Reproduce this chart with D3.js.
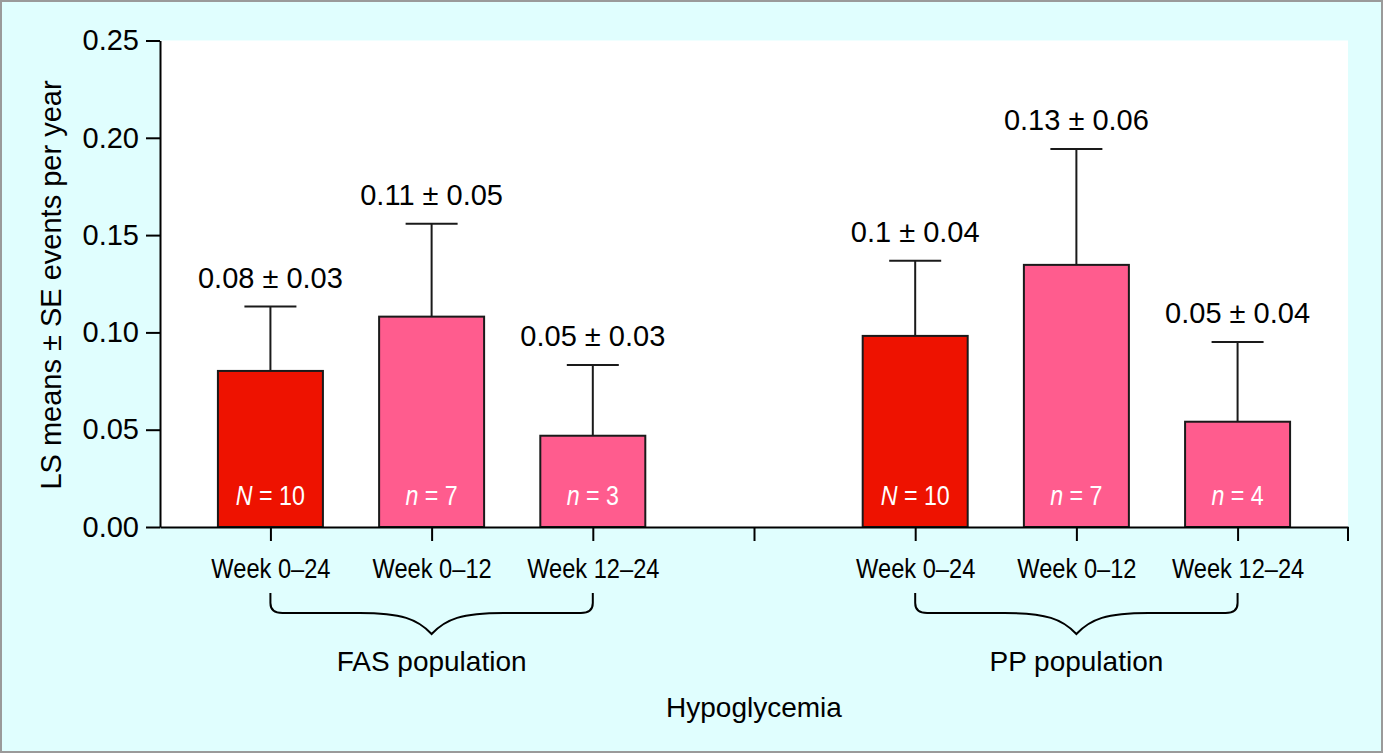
<!DOCTYPE html>
<html>
<head>
<meta charset="utf-8">
<script src="https://cdn.jsdelivr.net/npm/d3@7"></script>
<style>
  body { margin: 0; background: #fff; }
  svg text { font-family: "Liberation Sans", Arial, sans-serif; fill: #000; }
</style>
</head>
<body>
<svg id="chart" width="1383" height="753"></svg>
<script>
// data
var groups = ["FAS population", "PP population"]
var periods = ["Week 0\u201324", "Week 0\u201312", "Week 12\u201324"]
var fas_means = [0.0802, 0.1081, 0.0469]
var fas_se = [0.0331, 0.0477, 0.0364]
var pp_means = [0.0982, 0.1347, 0.0541]
var pp_se = [0.0386, 0.0596, 0.0410]
var fas_labels = ["0.08 \u00b1 0.03", "0.11 \u00b1 0.05", "0.05 \u00b1 0.03"]
var pp_labels = ["0.1 \u00b1 0.04", "0.13 \u00b1 0.06", "0.05 \u00b1 0.04"]
var fas_n = [["N", "10"], ["n", "7"], ["n", "3"]]
var pp_n = [["N", "10"], ["n", "7"], ["n", "4"]]
var y_ticks = [0, 0.05, 0.10, 0.15, 0.20, 0.25]
var y_title = "LS means \u00b1 SE events per year"
var x_title = "Hypoglycemia"

var chart_w = 1383, chart_h = 753
var m_left = 160, m_right = 1348, m_top = 40.5, m_bottom = 527
var bar_w = 105
var narrow = "scale(0.83,1)"   // no narrow face installed, squeeze Liberation Sans

var svg = d3.select("#chart")

// page background + frame
svg.append("rect")
  .attr("x", 1).attr("y", 1)
  .attr("width", chart_w - 2).attr("height", chart_h - 2)
  .style("fill", "#e0fefe")
  .style("stroke", "#9a9a9a")
  .style("stroke-width", 2)

svg.append("rect")
  .attr("x", m_left).attr("y", m_top)
  .attr("width", m_right - m_left).attr("height", m_bottom - m_top)
  .style("fill", "#fff")

// build rows from the arrays
var rows = []
periods.forEach((p, i) => rows.push({key: "FAS|" + i, group: 0, period: p, i: i, mean: fas_means[i], se: fas_se[i], label: fas_labels[i], n: fas_n[i]}))
periods.forEach((p, i) => rows.push({key: "PP|" + i, group: 1, period: p, i: i, mean: pp_means[i], se: pp_se[i], label: pp_labels[i], n: pp_n[i]}))

var slots = ["FAS|0", "FAS|1", "FAS|2", "gap", "PP|0", "PP|1", "PP|2"]
var x_scale = d3.scalePoint()
  .domain(slots)
  .range([m_left, m_right])
  .padding(0.685)

var y_scale = d3.scaleLinear()
  .domain([0, 0.25])
  .range([m_bottom, m_top])

// y axis
var y_axis = svg.append("g")
  .attr("transform", "translate(" + m_left + ",0)")
  .call(d3.axisLeft(y_scale).tickValues(y_ticks).tickFormat(d3.format(".2f")).tickSize(14).tickPadding(7).tickSizeOuter(0))
y_axis.select(".domain").style("stroke-width", 2)
y_axis.selectAll(".tick line").style("stroke-width", 2)
y_axis.selectAll("text").style("font-size", "29px").style("font-family", "'Liberation Sans', Arial, sans-serif")

svg.append("text")
  .attr("transform", "translate(61,285) rotate(-90)")
  .style("text-anchor", "middle")
  .style("font-size", "29px")
  .text(y_title)

// bars
svg.append("g").selectAll("rect")
  .data(rows)
  .enter().append("rect")
  .attr("x", d => x_scale(d.key) - bar_w / 2)
  .attr("y", d => y_scale(d.mean))
  .attr("width", bar_w)
  .attr("height", d => y_scale(0) - y_scale(d.mean))
  .style("fill", d => d.i == 0 ? "#ee1200" : "#ff5c8e")
  .style("stroke", "#1a1a1a")
  .style("stroke-width", 2)

// error bars (upper only)
var err = svg.append("g").selectAll("g")
  .data(rows)
  .enter().append("g")
err.append("line")
  .attr("x1", d => x_scale(d.key)).attr("x2", d => x_scale(d.key))
  .attr("y1", d => y_scale(d.mean)).attr("y2", d => y_scale(d.mean + d.se))
  .style("stroke", "#1a1a1a").style("stroke-width", 2)
err.append("line")
  .attr("x1", d => x_scale(d.key) - 26).attr("x2", d => x_scale(d.key) + 26)
  .attr("y1", d => y_scale(d.mean + d.se)).attr("y2", d => y_scale(d.mean + d.se))
  .style("stroke", "#1a1a1a").style("stroke-width", 2)

// value labels
svg.append("g").selectAll("text")
  .data(rows)
  .enter().append("text")
  .attr("x", d => x_scale(d.key))
  .attr("y", d => y_scale(d.mean + d.se) - 19)
  .style("text-anchor", "middle")
  .style("font-size", "29px")
  .text(d => d.label)

// n labels inside bars
var n_text = svg.append("g").selectAll("g")
  .data(rows)
  .enter().append("g")
  .attr("transform", d => "translate(" + x_scale(d.key) + "," + (m_bottom - 22) + ")")
  .append("text")
  .attr("transform", narrow)
  .style("text-anchor", "middle")
  .style("font-size", "28px")
n_text.append("tspan").style("font-style", "italic").style("fill", "#fff").text(d => d.n[0])
n_text.append("tspan").style("fill", "#fff").text(d => " = " + d.n[1])

// x axis
var x_axis = svg.append("g")
  .attr("transform", "translate(0," + m_bottom + ")")
  .call(d3.axisBottom(x_scale).tickSize(14).tickPadding(17).tickSizeOuter(0)
    .tickFormat(k => k == "gap" ? "" : periods[+k.split("|")[1]]))
x_axis.select(".domain").style("stroke-width", 2)
x_axis.selectAll(".tick line").style("stroke-width", 2)
x_axis.selectAll("text")
  .attr("transform", narrow)
  .style("font-size", "28.5px")
  .style("font-family", "'Liberation Sans', Arial, sans-serif")
// closing tick at the end of the axis
x_axis.append("line")
  .attr("x1", x_scale.range()[1]).attr("x2", x_scale.range()[1])
  .attr("y1", 0).attr("y2", 14)
  .style("stroke", "#000").style("stroke-width", 2)

// braces under each group
function brace(x0, x1, y0, y1) {
  var xc = (x0 + x1) / 2, ym = y0 + 20
  return "M" + x0 + "," + y0 + "V" + (ym - 10) +
    "Q" + x0 + "," + ym + " " + (x0 + 12) + "," + ym +
    "H" + (xc - 72) +
    "C" + (xc - 30) + "," + ym + " " + (xc - 14) + "," + (ym + 6) + " " + xc + "," + y1 +
    "C" + (xc + 14) + "," + (ym + 6) + " " + (xc + 30) + "," + ym + " " + (xc + 72) + "," + ym +
    "H" + (x1 - 12) +
    "Q" + x1 + "," + ym + " " + x1 + "," + (ym - 10) + "V" + y0
}

var grp = svg.append("g").selectAll("g")
  .data(groups)
  .enter().append("g")
grp.append("path")
  .attr("d", (g, gi) => brace(x_scale(slots[gi * 4]), x_scale(slots[gi * 4 + 2]), 593, 634))
  .style("fill", "none").style("stroke", "#000").style("stroke-width", 2)
grp.append("text")
  .attr("x", (g, gi) => x_scale(slots[gi * 4 + 1]))
  .attr("y", 671)
  .style("text-anchor", "middle")
  .style("font-size", "28px")
  .text(g => g)

svg.append("text")
  .attr("x", x_scale("gap"))
  .attr("y", 717)
  .style("text-anchor", "middle")
  .style("font-size", "28px")
  .text(x_title)
</script>
</body>
</html>
